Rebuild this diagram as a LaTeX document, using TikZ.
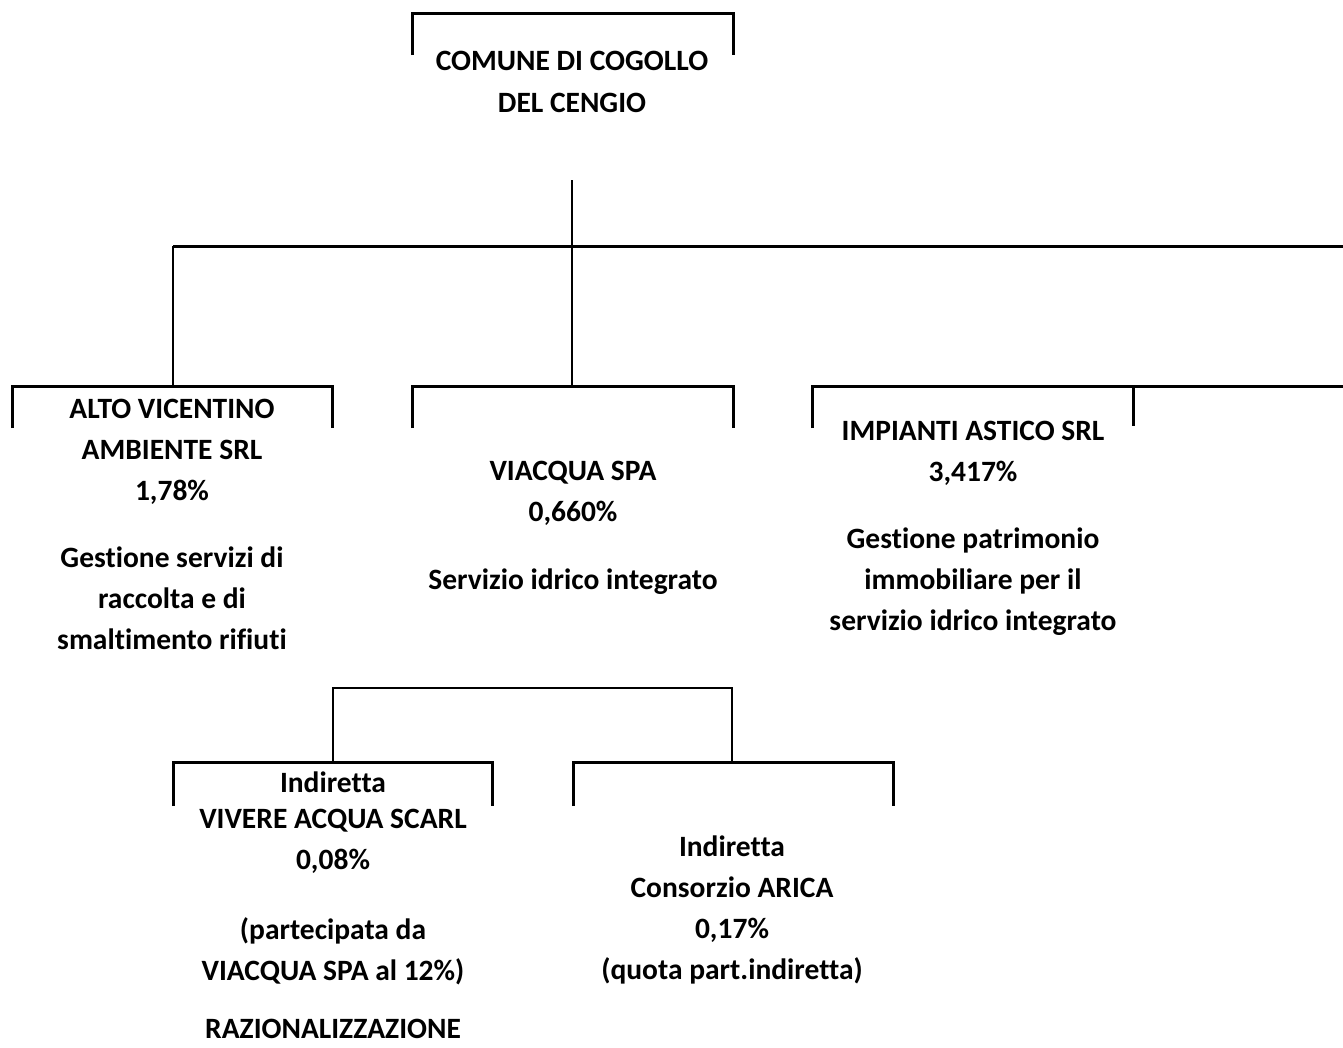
\documentclass[tikz,border=0pt]{standalone}
\usepackage{fontspec}
\setmainfont{Carlito}[Ligatures=NoCommon]
\usetikzlibrary{positioning,calc}

\begin{document}
\begin{tikzpicture}[x=1pt, y=-1pt,
    bracket/.style={line width=3pt},
    bus/.style={line width=3pt},
    link/.style={line width=1.5pt},
    txt/.style={font=\fontsize{29.5}{41}\selectfont\bfseries, align=center, inner sep=0pt, anchor=north}]
   \useasboundingbox (0,0) rectangle (1343,1047);
   % open boxes
   \draw[bracket] (412,55) |- (733,13) -- (733,55);
   \draw[bracket] (12,428) |- (332,386) -- (332,428);
   \draw[bracket] (412,428) |- (733,386) -- (733,428);
   \draw[bracket] (812,428) |- (1343,386);
   \draw[bracket] (1133,386) -- (1133,426);
   \draw[bracket] (173,806) |- (492,762) -- (492,806);
   \draw[bracket] (573,806) |- (893,762) -- (893,806);
   % texts
   \begin{scope}[every node/.style={txt}]
    \node (comune)  at (572,51)  {COMUNE DI COGOLLO\\[1pt]DEL CENGIO};
    \node (alto)    at (172,399) {ALTO VICENTINO\\AMBIENTE SRL\\1,78\%\\[26pt]Gestione servizi di\\raccolta e di\\smaltimento rifiuti};
    \node (viacqua) at (573,461) {VIACQUA SPA\\0,660\%\\[27pt]Servizio idrico integrato};
    \node (astico)  at (973,421) {IMPIANTI ASTICO SRL\\3,417\%\\[26pt]Gestione patrimonio\\immobiliare per il\\servizio idrico integrato};
    \node (vivere)  at (333,772) {Indiretta\\[-5pt]VIVERE ACQUA SCARL\\0,08\%\\[29pt](partecipata da\\VIACQUA SPA al 12\%)\\[17pt]RAZIONALIZZAZIONE};
    \node (arica)   at (732,836) {Indiretta\\Consorzio ARICA\\0,17\%\\(quota part.indiretta)};
   \end{scope}
   % connectors
   \coordinate (trunk) at (572,180);
   \coordinate (busend) at (1343,246);
   \coordinate (altotop) at (173,386);
   \coordinate (viacquatop) at (572,386);
   \coordinate (viveretop) at (333,762);
   \coordinate (aricatop) at (732,762);
   \draw[link] (trunk) -- (viacquatop);
   \draw[link] (altotop) -- (altotop |- busend);
   \draw[bus] (altotop |- busend) -- (busend);
   \draw[link, line width=2pt] (viveretop) -- ++(0,-74) -| (aricatop);
\end{tikzpicture}
\end{document}
